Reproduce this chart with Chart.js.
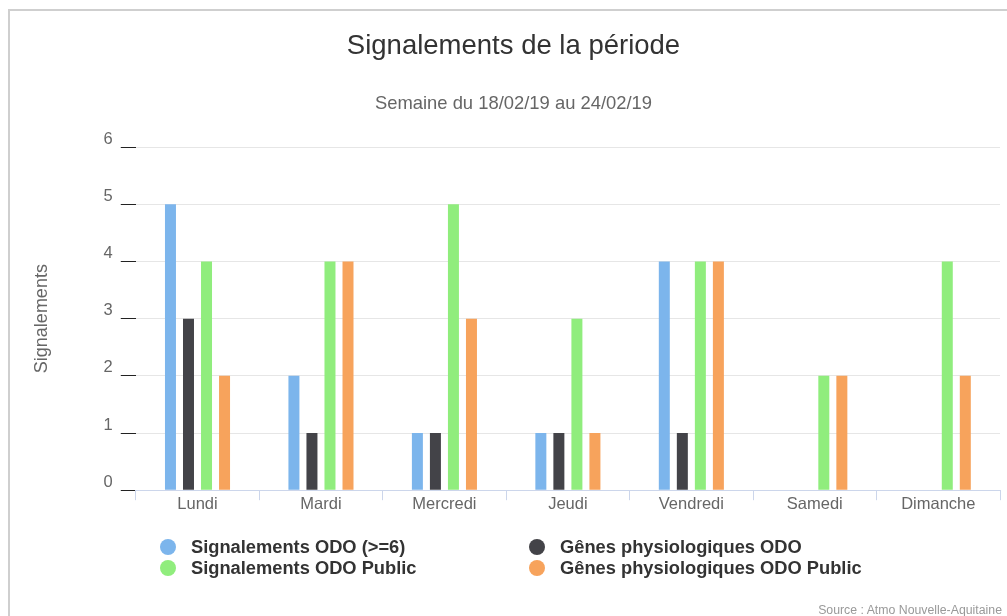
<!DOCTYPE html>
<html lang="fr">
<head>
    <meta charset="UTF-8">
    <script src="https://cdn.jsdelivr.net/npm/chart.js"></script>
    <title>Signalements de la période</title>
    <style>
        html, body {
            margin: 0;
            padding: 0;
            width: 1007px;
            height: 616px;
            overflow: hidden;
            background: #fff;
            font-family: "Liberation Sans", Arial, sans-serif;
        }
        #frame {
            position: absolute;
            left: 8px;
            top: 9px;
            width: 1010px;
            height: 620px;
            border-top: 2px solid #cfcfcf;
            border-left: 2px solid #cfcfcf;
        }
        #chart {
            position: absolute;
            left: 0;
            top: 0;
        }
        .legend-item {
            position: absolute;
            font-weight: bold;
            font-size: 18.3px;
            color: #333;
            white-space: nowrap;
            line-height: 20px;
        }
        .legend-item span.dot {
            position: absolute;
            left: -31px;
            top: 2px;
            width: 16px;
            height: 16px;
            border-radius: 50%;
        }
        #credit {
            position: absolute;
            right: 5px;
            top: 602px;
            font-size: 12.3px;
            line-height: 16px;
            color: #999;
        }
    </style>
</head>
<body>

<div id="frame">
    <canvas id="chart" width="1008" height="605"></canvas>
</div>
<div id="legend"></div>
<div id="credit">Source : Atmo Nouvelle-Aquitaine</div>

<script>
    const days = ['Lundi', 'Mardi', 'Mercredi', 'Jeudi', 'Vendredi', 'Samedi', 'Dimanche'];
    const signalementsOdo = [5, 2, 1, 1, 4, 0, 0];
    const genesOdo = [3, 1, 1, 1, 1, 0, 0];
    const signalementsPublic = [4, 4, 5, 3, 4, 2, 4];
    const genesPublic = [2, 4, 3, 1, 4, 2, 2];

    const seriesNames = [
        'Signalements ODO (>=6)',
        'Gênes physiologiques ODO',
        'Signalements ODO Public',
        'Gênes physiologiques ODO Public'
    ];
    const seriesColors = ['#7cb5ec', '#434348', '#90ed7d', '#f7a35c'];
    const seriesValues = [signalementsOdo, genesOdo, signalementsPublic, genesPublic];

    const fontFamily = '"Liberation Sans", Arial, sans-serif';

    const ctx = document.getElementById('chart').getContext('2d');
    const chart = new Chart(ctx, {
        type: 'bar',
        data: {
            labels: days,
            datasets: seriesValues.map((vals, i) => ({
                label: seriesNames[i],
                data: vals,
                backgroundColor: seriesColors[i],
                borderWidth: 0,
                categoryPercentage: 0.584,
                barPercentage: 0.61
            }))
        },
        options: {
            responsive: false,
            animation: false,
            devicePixelRatio: 1,
            layout: {
                padding: { left: 17, right: 18, top: 0, bottom: 100 }
            },
            plugins: {
                legend: { display: false },
                tooltip: { enabled: false },
                title: {
                    display: true,
                    text: 'Signalements de la période',
                    color: '#333',
                    font: { family: fontFamily, size: 27.5, weight: 'normal' },
                    padding: { top: 19, bottom: 0 }
                },
                subtitle: {
                    display: true,
                    text: 'Semaine du 18/02/19 au 24/02/19',
                    color: '#666',
                    font: { family: fontFamily, size: 18.4 },
                    padding: { top: 30, bottom: 32 }
                }
            },
            scales: {
                x: {
                    // labels sit close to the axis, so give the box extra room (labels are clipped to it)
                    afterFit: (scale) => { scale.height += 8; },
                    grid: {
                        offset: true,
                        drawOnChartArea: false,
                        tickLength: 10,
                        color: '#ccd6eb'
                    },
                    border: { color: '#ccd6eb' },
                    ticks: {
                        color: '#666',
                        padding: -6,
                        font: { family: fontFamily, size: 16.5 }
                    }
                },
                y: {
                    min: 0,
                    max: 6,
                    ticks: {
                        stepSize: 1,
                        color: '#666',
                        padding: 8,
                        labelOffset: -8,
                        font: { family: fontFamily, size: 16.5 }
                    },
                    grid: {
                        color: '#e6e6e6',
                        tickLength: 15,
                        tickColor: '#222'
                    },
                    border: { display: false },
                    title: {
                        display: true,
                        text: 'Signalements',
                        color: '#666',
                        font: { family: fontFamily, size: 18 },
                        padding: { top: 4, bottom: 43 }
                    }
                }
            }
        }
    });

    // legend in two columns, like the original
    const legend = document.getElementById('legend');
    const legendPos = [[191, 537], [560, 537], [191, 558], [560, 558]];
    seriesNames.forEach((name, i) => {
        const item = document.createElement('div');
        item.className = 'legend-item';
        item.style.left = legendPos[i][0] + 'px';
        item.style.top = legendPos[i][1] + 'px';
        const dot = document.createElement('span');
        dot.className = 'dot';
        dot.style.background = seriesColors[i];
        item.appendChild(dot);
        item.appendChild(document.createTextNode(name));
        legend.appendChild(item);
    });
</script>

</body>
</html>
